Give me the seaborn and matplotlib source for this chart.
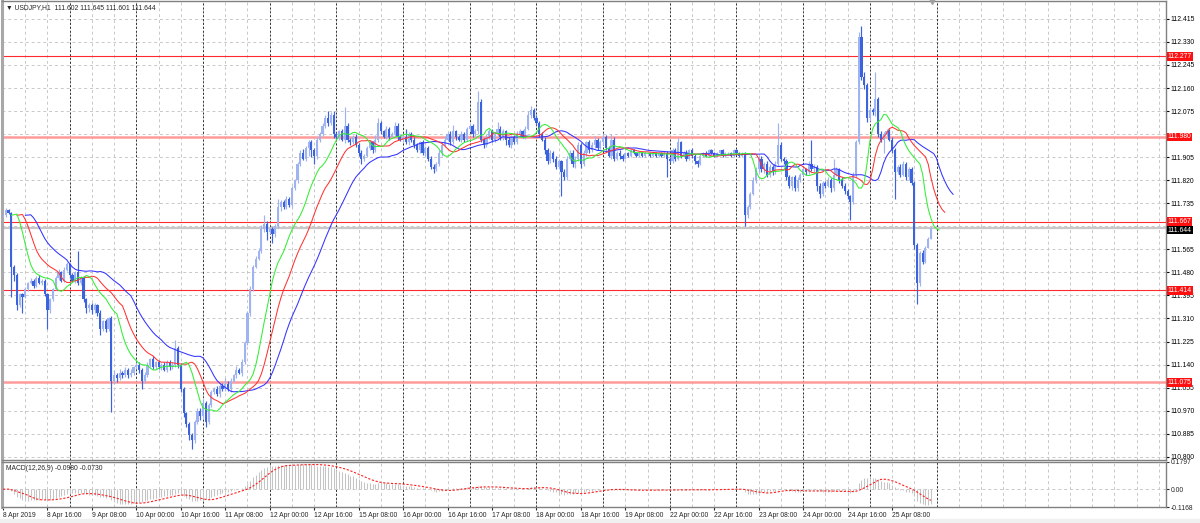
import numpy as np
import pandas as pd
import seaborn as sns
import matplotlib.pyplot as plt
from matplotlib.transforms import blended_transform_factory

# ---- data (USDJPY H1, one row = 16 hourly bars) ----
first_open = 111.690
close = [
    111.69, 111.71, 111.70, 111.50, 111.47, 111.36, 111.40, 111.39, 111.42, 111.44, 111.45, 111.43, 111.46, 111.44, 111.45, 111.40,
    111.34, 111.38, 111.42, 111.46, 111.48, 111.45, 111.49, 111.51, 111.47, 111.45, 111.48, 111.44, 111.46, 111.38, 111.35, 111.36,
    111.34, 111.36, 111.33, 111.27, 111.30, 111.27, 111.31, 111.08, 111.10, 111.09, 111.11, 111.10, 111.12, 111.10, 111.11, 111.13,
    111.14, 111.12, 111.08, 111.10, 111.14, 111.16, 111.13, 111.15, 111.13, 111.14, 111.12, 111.15, 111.13, 111.14, 111.20, 111.14,
    111.05, 110.96, 110.92, 110.88, 110.86, 110.93, 110.97, 110.95, 111.00, 110.93, 110.99, 111.04, 111.05, 111.03, 111.06, 111.05,
    111.07, 111.05, 111.08, 111.10, 111.12, 111.11, 111.15, 111.22, 111.33, 111.42, 111.50, 111.53, 111.56, 111.64, 111.66, 111.63,
    111.64, 111.62, 111.65, 111.72, 111.74, 111.72, 111.75, 111.73, 111.79, 111.82, 111.88, 111.92, 111.90, 111.94, 111.96, 111.93,
    111.91, 111.97, 111.99, 112.02, 112.05, 112.03, 112.06, 111.99, 111.98, 112.00, 111.97, 112.02, 111.97, 111.96, 111.98, 111.95,
    111.92, 111.90, 111.91, 111.94, 111.96, 111.93, 111.97, 112.03, 112.00, 111.98, 112.01, 111.98, 111.99, 112.02, 111.98, 111.97,
    111.98, 111.96, 111.99, 111.97, 111.95, 111.93, 111.96, 111.92, 111.94, 111.90, 111.87, 111.86, 111.88, 111.92, 111.95, 111.97,
    111.99, 111.96, 112.00, 111.98, 111.97, 111.99, 111.97, 112.01, 112.02, 111.99, 112.00, 112.11, 111.97, 111.95, 111.98, 112.00,
    111.97, 111.99, 112.01, 111.98, 112.00, 111.97, 111.95, 111.98, 111.96, 111.99, 112.00, 111.98, 112.01, 112.06, 112.08, 112.05,
    112.03, 111.99, 111.97, 111.93, 111.89, 111.92, 111.90, 111.87, 111.89, 111.85, 111.83, 111.90, 111.92, 111.88, 111.90, 111.95,
    111.88, 111.92, 111.96, 111.93, 111.95, 111.97, 111.94, 111.96, 111.98, 111.94, 111.91, 111.97, 111.90, 111.92, 111.91, 111.90,
    111.92, 111.91, 111.93, 111.92, 111.91, 111.92, 111.91, 111.92, 111.92, 111.91, 111.92, 111.91, 111.92, 111.91, 111.92, 111.90,
    111.89, 111.93, 111.90, 111.96, 111.91, 111.92, 111.90, 111.93, 111.91, 111.89, 111.88, 111.91, 111.92, 111.91, 111.93, 111.92,
    111.91, 111.92, 111.93, 111.91, 111.92, 111.92, 111.91, 111.93, 111.92, 111.91, 111.92, 111.69, 111.72, 111.77, 111.82, 111.86,
    111.90, 111.86, 111.88, 111.84, 111.87, 111.85, 111.88, 111.95, 111.90, 111.89, 111.83, 111.80, 111.83, 111.79, 111.82, 111.84,
    111.86, 111.85, 111.88, 111.86, 111.87, 111.80, 111.77, 111.81, 111.80, 111.82, 111.79, 111.84, 111.86, 111.82, 111.80, 111.78,
    111.76, 111.74, 111.84, 111.96, 112.35, 112.20, 112.17, 112.05, 112.08, 112.07, 112.12, 111.99, 111.97, 111.99, 112.00, 111.97,
    111.93, 111.85, 111.87, 111.84, 111.88, 111.83, 111.86, 111.81, 111.58, 111.44, 111.55, 111.52, 111.57, 111.602, 111.644,
]
# upper / lower shadow lengths in points (0.001)
wick_up = [
    6, 8, 5, 4, 6, 8, 5, 4, 6, 5, 8, 4, 6, 10, 5, 4,
    5, 6, 4, 8, 12, 6, 10, 8, 5, 6, 4, 80, 6, 5, 4, 8,
    6, 8, 5, 10, 6, 8, 6, 10, 20, 8, 15, 6, 10, 8, 12, 6,
    8, 10, 6, 12, 8, 6, 10, 5, 8, 6, 10, 8, 6, 10, 30, 8,
    6, 8, 5, 10, 8, 6, 10, 8, 12, 6, 10, 8, 6, 10, 8, 12,
    20, 8, 10, 6, 15, 8, 10, 6, 8, 10, 6, 12, 10, 15, 30, 8,
    8, 6, 10, 30, 8, 6, 12, 8, 10, 6, 8, 10, 15, 6, 10, 8,
    10, 8, 6, 10, 12, 25, 10, 15, 8, 6, 8, 70, 10, 6, 8, 10,
    8, 10, 6, 8, 10, 6, 15, 20, 8, 6, 10, 8, 6, 15, 10, 8,
    12, 30, 8, 6, 10, 8, 6, 10, 8, 6, 10, 8, 6, 10, 8, 12,
    8, 10, 25, 6, 8, 10, 6, 8, 10, 6, 8, 40, 8, 6, 10, 8,
    8, 6, 25, 10, 8, 6, 10, 8, 6, 10, 8, 6, 10, 15, 12, 8,
    10, 8, 6, 10, 8, 12, 6, 10, 8, 6, 10, 8, 12, 10, 8, 10,
    8, 10, 6, 8, 10, 12, 6, 10, 15, 8, 6, 20, 8, 6, 10, 8,
    4, 3, 5, 4, 3, 4, 5, 3, 4, 3, 5, 4, 3, 4, 8, 6,
    6, 10, 8, 15, 6, 8, 10, 6, 8, 5, 6, 8, 4, 6, 5, 4,
    4, 5, 3, 4, 5, 3, 4, 5, 4, 3, 4, 5, 8, 6, 10, 8,
    8, 10, 6, 12, 8, 6, 10, 80, 10, 6, 8, 10, 6, 8, 10, 6,
    8, 6, 10, 90, 8, 6, 10, 8, 6, 10, 8, 60, 8, 6, 10, 8,
    8, 6, 10, 10, 15, 40, 20, 10, 8, 8, 100, 8, 10, 6, 8, 10,
    8, 10, 6, 8, 10, 6, 8, 10, 6, 8, 10, 12, 8, 10, 1,
]
wick_dn = [
    5, 4, 6, 110, 20, 20, 8, 60, 5, 8, 4, 6, 5, 4, 8, 6,
    70, 10, 6, 5, 8, 6, 4, 5, 10, 6, 8, 5, 6, 10, 20, 15,
    15, 8, 10, 20, 8, 10, 6, 114, 10, 15, 6, 8, 5, 8, 6, 10,
    6, 10, 30, 8, 6, 10, 5, 8, 6, 10, 5, 8, 10, 6, 10, 12,
    10, 15, 12, 20, 30, 10, 8, 15, 6, 20, 10, 6, 8, 5, 10, 6,
    8, 6, 10, 5, 8, 6, 12, 8, 6, 10, 8, 5, 6, 8, 10, 30,
    10, 30, 8, 5, 15, 8, 6, 10, 8, 6, 10, 8, 6, 10, 30, 25,
    30, 10, 8, 6, 8, 10, 6, 15, 8, 10, 6, 12, 8, 10, 6, 8,
    10, 20, 8, 6, 10, 8, 6, 8, 10, 6, 8, 10, 6, 8, 10, 6,
    8, 6, 10, 8, 12, 6, 10, 8, 12, 10, 8, 15, 6, 8, 10, 6,
    6, 10, 8, 12, 6, 8, 10, 6, 8, 10, 6, 8, 10, 12, 6, 8,
    10, 8, 6, 10, 12, 20, 8, 10, 6, 8, 10, 6, 8, 6, 10, 8,
    8, 10, 6, 12, 10, 8, 12, 10, 8, 90, 10, 8, 6, 12, 15, 8,
    15, 6, 10, 8, 6, 10, 8, 6, 10, 8, 6, 10, 8, 6, 10, 8,
    3, 4, 3, 5, 4, 3, 4, 3, 5, 4, 3, 4, 5, 3, 6, 70,
    8, 6, 10, 6, 8, 5, 10, 6, 8, 10, 12, 5, 4, 6, 4, 5,
    4, 3, 5, 4, 3, 5, 4, 3, 4, 5, 3, 40, 10, 8, 6, 10,
    10, 8, 12, 10, 8, 10, 6, 8, 10, 12, 10, 8, 15, 10, 8, 6,
    6, 10, 8, 6, 10, 20, 15, 8, 10, 6, 12, 8, 6, 10, 8, 12,
    10, 65, 8, 10, 8, 10, 12, 15, 10, 8, 12, 10, 8, 50, 8, 6,
    10, 100, 8, 10, 6, 8, 10, 6, 12, 75, 10, 8, 6, 1, 0,
]

time_labels = ["8 Apr 2019", "8 Apr 16:00", "9 Apr 08:00", "10 Apr 00:00", "10 Apr 16:00",
               "11 Apr 08:00", "12 Apr 00:00", "12 Apr 16:00", "15 Apr 08:00", "16 Apr 00:00",
               "16 Apr 16:00", "17 Apr 08:00", "18 Apr 00:00", "18 Apr 16:00", "19 Apr 08:00",
               "22 Apr 00:00", "22 Apr 16:00", "23 Apr 08:00", "24 Apr 00:00", "24 Apr 16:00",
               "25 Apr 08:00"]
price_ticks = [110.800, 110.885, 110.970, 111.055, 111.140, 111.225, 111.310, 111.395, 111.480,
               111.565, 111.650, 111.735, 111.820, 111.905, 111.990, 112.075, 112.160, 112.245,
               112.330, 112.415]
hidden_ticks = [111.650, 111.990]   # covered by the level boxes on the chart
levels = [112.277, 111.980, 111.667, 111.414, 111.075]
level_thick = [False, True, False, False, True]
last_price = 111.644
macd_ticks = [0.1797, 0.00, -0.1168]
macd_tick_labels = ["0.1797", "0.00", "-0.1168"]
header = "\u25bc USDJPY,H1  111.602 111.645 111.601 111.644"
macd_header = "MACD(12,26,9) -0.0980 -0.0730"

# ---- frame ----
df = pd.DataFrame({"close": close})
df["bar"] = np.arange(len(df))
df["open"] = df["close"].shift(1).fillna(first_open)
df["high"] = df[["open", "close"]].max(axis=1) + np.array(wick_up) / 1000
df["low"] = df[["open", "close"]].min(axis=1) - np.array(wick_dn) / 1000
df["median"] = (df["high"] + df["low"]) / 2

def smma(s, n):
    return s.ewm(alpha=1.0 / n, adjust=False).mean()

jaw = smma(df["median"], 13)
teeth = smma(df["median"], 8)
lips = smma(df["median"], 5)

macd = df["close"].ewm(span=12, adjust=False).mean() - df["close"].ewm(span=26, adjust=False).mean()
signal = macd.rolling(9, min_periods=1).mean()

# ---- figure ----
sns.set_style("white")
plt.rcParams["font.family"] = ["Liberation Sans", "DejaVu Sans"]
W, H = 1200, 523
fig = plt.figure(figsize=(12, 5.23), dpi=100)
ax = fig.add_axes([2 / W, 1 - 460 / H, 1164 / W, 459 / H])
axm = fig.add_axes([2 / W, 1 - 507 / H, 1164 / W, 45 / H])

xmin, xmax = -0.36, 418.6
FS = 4.9
grid_c = "#c8c8c8"

for a in (ax, axm):
    a.set_xlim(xmin, xmax)
    for i in range(0, 420, 8):
        a.axvline(i, color=grid_c, lw=0.7, ls=(0, (3, 3)), zorder=0)
    for i in range(24, 337, 24):
        a.axvline(i, color="#303030", lw=0.7, ls=(0, (2, 2)), zorder=0.5)
    for s in a.spines.values():
        s.set_color("#808080")
        s.set_linewidth(1)
    a.spines["left"].set_color("#a8a8a8")
    a.spines["left"].set_linewidth(2.2)

# price panel
ax.set_ylim(110.788, 112.481)
for p in price_ticks:
    ax.axhline(p, color=grid_c, lw=0.7, ls=(0, (3, 3)), zorder=0)

for p, thick in zip(levels, level_thick):
    if thick:
        ax.axhline(p, color="#ff9a9a", lw=1.8, zorder=1)
    else:
        ax.axhline(p, color="#ff2a2a", lw=0.8, zorder=1)
ax.axhline(last_price, color="#c8c8c8", lw=1.6, zorder=0.8)

bull = df["close"] >= df["open"]
colors = np.where(bull, "#9fb3f0", "#3b63dd")
ax.vlines(df["bar"], df["low"], df["high"], colors=colors, lw=0.85, zorder=3)
body = (df["close"] - df["open"]).abs().clip(lower=0.002)
ax.bar(df["bar"], body, bottom=df[["open", "close"]].min(axis=1), width=0.78,
       color=colors, linewidth=0, zorder=4)

sns.lineplot(x=df["bar"] + 8, y=jaw, ax=ax, color="#3333ff", lw=0.75, zorder=5, legend=False)
sns.lineplot(x=df["bar"] + 5, y=teeth, ax=ax, color="#ff3333", lw=0.75, zorder=5, legend=False)
sns.lineplot(x=df["bar"] + 3, y=lips, ax=ax, color="#33ee33", lw=0.75, zorder=5, legend=False)

ax.yaxis.tick_right()
ax.set_yticks(price_ticks)
ax.set_yticklabels(["" if p in hidden_ticks else f"{p:.3f}" for p in price_ticks])
ax.tick_params(axis="y", labelsize=FS, length=2, pad=1.5, colors="#000000")
ax.tick_params(axis="x", bottom=False, labelbottom=False)
ax.set_xlabel("")
ax.set_ylabel("")

trans = blended_transform_factory(ax.transAxes, ax.transData)
for p in levels:
    ax.text(1.0015, p, f"{p:.3f}", transform=trans, fontsize=FS, color="white",
            va="center", ha="left", clip_on=False, zorder=20,
            bbox=dict(boxstyle="square,pad=0.12", fc="#ff1010", ec="none"))
ax.text(1.0015, last_price - 0.008, f"{last_price:.3f}", transform=trans, fontsize=FS,
        color="white", va="center", ha="left", clip_on=False, zorder=21,
        bbox=dict(boxstyle="square,pad=0.12", fc="#000000", ec="none"))

ax.plot([len(df) - 0.6], [112.481], marker="v", ms=4, color="#a0a0a0", clip_on=False, zorder=6)

# MACD panel
axm.set_ylim(macd_ticks[-1], macd_ticks[0])
axm.axhline(0, color=grid_c, lw=0.7, ls=(0, (3, 3)), zorder=0)
axm.vlines(df["bar"], 0, macd, colors="#c4c4c4", lw=0.75, zorder=2)
sns.lineplot(x=df["bar"], y=signal, ax=axm, color="#ff2020", lw=0.8, zorder=3, legend=False)
axm.lines[-1].set_linestyle((0, (2, 1.5)))
axm.yaxis.tick_right()
axm.set_yticks(macd_ticks)
axm.set_yticklabels(macd_tick_labels)
axm.tick_params(axis="y", labelsize=FS, length=2, pad=1.5)
axm.set_xticks(np.arange(len(time_labels)) * 16)
axm.set_xticklabels(time_labels)
axm.tick_params(axis="x", labelsize=FS, length=2, pad=1.5, bottom=True)
for lbl in axm.get_xticklabels():
    lbl.set_ha("left")
axm.set_xlabel("")
axm.set_ylabel("")

fig.text(6 / W, 1 - 8 / H, header, fontsize=FS, va="center", ha="left")
fig.text(6 / W, 1 - 468 / H, macd_header, fontsize=FS, va="center", ha="left")
fig.patches.append(plt.Rectangle((0, 0), 1, 4 / H, transform=fig.transFigure,
                                 color="#f0f0f0", zorder=0))

fig.savefig("out.png", dpi=100)
